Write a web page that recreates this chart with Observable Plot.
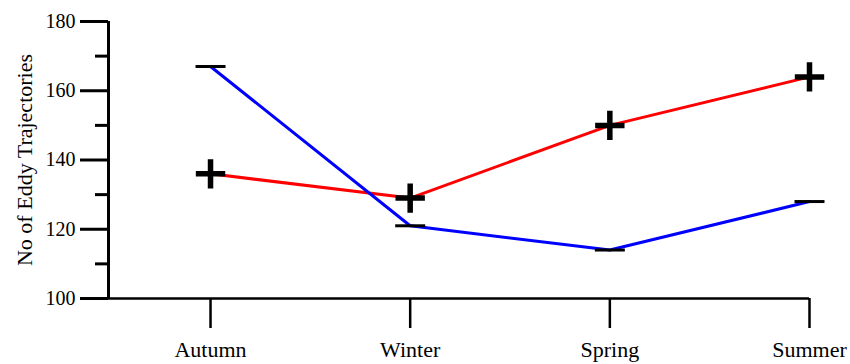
<!DOCTYPE html>
<html><head><meta charset="utf-8">
<script src="https://cdn.jsdelivr.net/npm/d3@7"></script>
<script src="https://cdn.jsdelivr.net/npm/@observablehq/plot@0.6"></script>
<style>body{margin:0;background:#fff;} svg{display:block}</style>
</head><body><div id="chart"></div>
<script>
const seasons = ["Autumn", "Winter", "Spring", "Summer"];
const redSeries = [136, 129, 150, 164];
const blueSeries = [167, 121, 114, 128];
const majorTicks = [100, 120, 140, 160, 180];
const minorTicks = [110, 130, 150, 170];
const yTitle = "No of Eddy Trajectories";

const redData = seasons.map((s, i) => ({i, season: s, value: redSeries[i]}));
const blueData = seasons.map((s, i) => ({i, season: s, value: blueSeries[i]}));
const dash = {draw(ctx, size) { const r = Math.sqrt(size / Math.PI); ctx.moveTo(-r, 0); ctx.lineTo(r, 0); }};
const xMin = -0.511;

const plot = Plot.plot({
  width: 850, height: 364,
  marginLeft: 108, marginRight: 41, marginTop: 21, marginBottom: 66,
  style: {fontFamily: "'Liberation Serif', 'Times New Roman', serif", background: "#fff", color: "#000"},
  x: {domain: [xMin, 3]},
  y: {domain: [100, 180]},
  marks: [
    Plot.axisY(majorTicks, {tickSize: 28, tickPadding: 5, strokeWidth: 3, fontSize: 20, label: null}),
    Plot.axisY(minorTicks, {tickSize: 13, tickFormat: () => "", strokeWidth: 3, label: null}),
    Plot.axisX(seasons.map((s, i) => i), {tickSize: 30, tickPadding: 13, tickFormat: i => seasons[i], fontSize: 22, strokeWidth: 2.5, label: null}),
    Plot.ruleX([xMin], {y1: 100, y2: 180, strokeWidth: 3}),
    Plot.ruleY([100], {strokeWidth: 2.5}),
    Plot.text([yTitle], {frameAnchor: "left", rotate: -90, dx: -77, textAnchor: "middle", lineAnchor: "bottom", fontSize: 22}),
    Plot.line(redData, {x: "i", y: "value", stroke: "#ff0000", strokeWidth: 3}),
    Plot.line(blueData, {x: "i", y: "value", stroke: "#0000ff", strokeWidth: 3}),
    Plot.dot(redData, {x: "i", y: "value", symbol: "plus", r: 9.5, fill: "none", stroke: "#000", strokeWidth: 5.5}),
    Plot.dot(blueData, {x: "i", y: "value", symbol: dash, r: 15, fill: "none", stroke: "#000", strokeWidth: 3})
  ]
});
document.getElementById("chart").appendChild(plot);
</script>
</body></html>
